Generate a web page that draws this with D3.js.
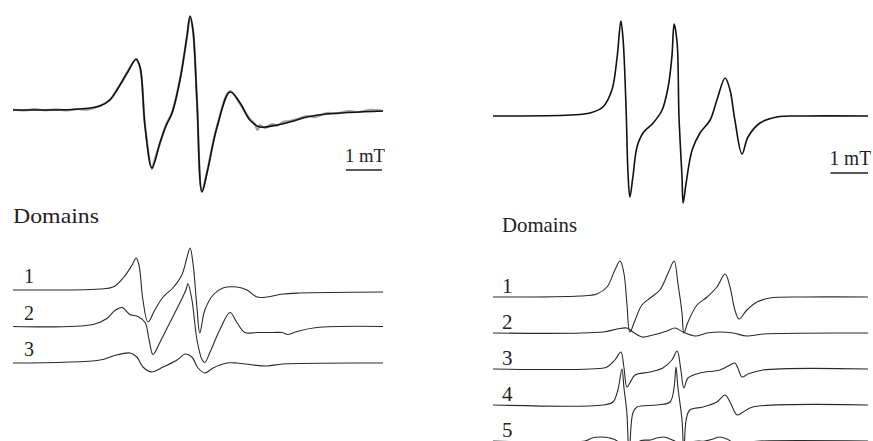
<!DOCTYPE html>
<html>
<head>
<meta charset="utf-8">
<script src="https://cdn.jsdelivr.net/npm/d3@7/dist/d3.min.js"></script>
<style>
  html, body { margin: 0; padding: 0; background: #fff; }
  svg { display: block; }
  text { font-family: "Liberation Serif", "DejaVu Serif", serif; fill: #222; }
</style>
</head>
<body>
<svg id="chart" width="873" height="441"></svg>
<script>
// ---------- DATA (field in mT, intensity in arbitrary units) ----------
// Left panel: full spectrum (simulation) and experimental trace
const leftSim = [
  [0.00,0.0],[1.86,0.1],[2.42,0.4],[2.69,1.0],[2.89,2.0],[3.05,3.0],[3.19,3.8],[3.42,5.1],[3.53,4.3],
  [3.67,-1.7],[3.86,-5.8],[4.08,-3.3],[4.25,-1.6],[4.42,-0.3],[4.64,3.0],[4.83,7.3],[4.92,9.4],[5.00,8.0],
  [5.11,1.0],[5.25,-8.2],[5.39,-6.3],[5.67,-1.7],[6.03,1.8],[6.31,0.7],[6.58,-1.0],[6.86,-1.7],
  [7.33,-1.5],[7.69,-1.2],[8.17,-0.7],[8.72,-0.4],[10.28,-0.1]
];
const leftExp = [
  [0.00,0.05],[0.30,-0.05],[0.60,0.08],[0.90,-0.03],[1.20,0.06],[1.50,-0.05],[1.80,0.10],[2.10,0.05],
  [2.42,0.45],[2.69,1.0],[2.89,2.1],[3.05,2.9],[3.19,3.9],[3.42,5.0],[3.53,4.2],[3.67,-1.6],[3.86,-5.9],
  [3.90,-5.4],[4.08,-3.4],[4.25,-1.5],[4.42,-0.2],[4.64,3.1],[4.83,7.2],[4.92,9.3],[5.00,8.0],[5.11,1.1],
  [5.25,-8.1],[5.39,-6.2],[5.67,-1.6],[6.03,1.9],[6.31,0.6],[6.58,-0.9],[6.70,-1.3],[6.80,-2.0],
  [6.86,-1.5],[7.00,-1.8],[7.20,-1.4],[7.33,-1.6],[7.50,-1.2],[7.69,-1.1],[7.90,-0.9],[8.17,-0.6],
  [8.40,-0.7],[8.72,-0.3],[9.00,-0.35],[9.30,-0.1],[9.60,-0.2],[9.90,0.0],[10.28,-0.1]
];
// Left panel: domain components 1-3
const leftDomain1 = [
  [0.00,0.0],[2.42,0.1],[2.78,0.3],[3.06,1.2],[3.31,2.5],[3.42,3.2],[3.50,2.5],[3.61,-1.0],[3.75,-3.2],
  [3.94,-2.0],[4.17,-0.7],[4.44,0.2],[4.69,1.5],[4.83,3.2],[4.92,4.2],[5.00,2.7],[5.11,-1.7],[5.19,-4.3],
  [5.33,-2.0],[5.56,-0.5],[5.83,0.2],[6.22,0.3],[6.50,0.0],[6.78,-0.7],[7.06,-0.7],[7.50,-0.4],
  [7.97,-0.3],[10.28,-0.2]
];
const leftDomain2 = [
  [0.00,0.0],[2.22,0.2],[2.61,0.8],[2.83,1.6],[3.03,1.9],[3.25,1.2],[3.47,1.0],[3.67,0.4],[3.78,-1.3],
  [3.89,-2.8],[4.08,-1.6],[4.36,0.4],[4.64,2.4],[4.81,3.7],[4.86,4.3],[4.97,2.7],[5.11,-1.3],[5.25,-3.3],
  [5.33,-3.6],[5.47,-2.6],[5.75,-0.3],[6.03,1.4],[6.22,0.4],[6.44,-0.6],[6.78,-0.6],[7.22,-0.6],
  [7.47,-0.6],[7.64,-0.8],[7.89,-0.5],[8.44,-0.1],[10.28,0.0]
];
const leftDomain3 = [
  [0.00,0.0],[2.42,0.3],[2.78,0.7],[3.25,1.0],[3.44,0.6],[3.61,-0.4],[3.86,-0.9],[4.17,-0.4],[4.56,0.3],
  [4.78,0.9],[4.97,0.6],[5.14,-0.5],[5.33,-1.0],[5.56,-0.5],[5.94,0.0],[6.22,0.0],[6.67,-0.2],
  [7.06,-0.3],[7.50,-0.1],[10.28,0.0]
];
// Right panel: full spectrum
const rightSpec = [
  [0.00,0.0],[2.05,0.1],[2.59,0.3],[2.93,0.9],[3.17,2.6],[3.31,5.9],[3.41,9.5],[3.47,7.6],[3.55,0.6],
  [3.60,-5.7],[3.65,-8.1],[3.73,-6.1],[3.84,-3.1],[4.00,-1.7],[4.27,-0.7],[4.51,0.6],[4.67,2.9],
  [4.77,5.9],[4.83,9.2],[4.91,7.3],[4.96,-0.1],[5.04,-6.1],[5.07,-8.7],[5.15,-6.7],[5.31,-3.4],
  [5.52,-1.7],[5.79,-0.4],[5.97,1.6],[6.19,3.8],[6.32,2.6],[6.45,-0.4],[6.64,-3.8],[6.80,-2.1],
  [7.12,-0.7],[7.57,-0.1],[8.27,0.0],[10.00,0.0]
];
// Right panel: domain components 1-5
const rightDomain1 = [
  [0.00,0.0],[2.32,0.1],[2.77,0.3],[3.04,1.0],[3.25,2.7],[3.39,3.6],[3.49,2.4],[3.57,-0.6],[3.65,-3.5],
  [3.79,-2.3],[3.97,-0.8],[4.19,-0.1],[4.45,0.7],[4.67,2.4],[4.83,3.6],[4.93,1.4],[5.04,-1.6],[5.09,-3.6],
  [5.20,-2.5],[5.44,-0.8],[5.71,0.0],[5.97,1.0],[6.19,2.3],[6.32,1.0],[6.45,-1.3],[6.56,-2.2],
  [6.77,-1.3],[7.04,-0.5],[7.39,-0.1],[8.27,0.0],[10.00,0.0]
];
const rightDomain2 = [
  [0.00,0.0],[2.93,0.1],[3.31,0.4],[3.57,0.5],[3.73,0.1],[3.97,-0.4],[4.27,-0.2],[4.64,0.2],[4.85,0.5],
  [5.07,0.1],[5.39,-0.3],[5.71,0.0],[6.05,0.1],[6.40,0.0],[6.77,-0.3],[7.20,-0.1],[10.00,0.0]
];
const rightDomain3 = [
  [0.00,0.0],[2.59,0.0],[3.04,0.2],[3.25,0.9],[3.41,1.7],[3.49,0.2],[3.57,-1.8],[3.65,-1.4],[3.79,-0.6],
  [4.19,-0.3],[4.53,0.1],[4.77,0.9],[4.91,1.8],[5.01,-0.1],[5.09,-1.9],[5.20,-0.9],[5.52,-0.4],
  [6.05,-0.1],[6.32,0.4],[6.45,0.6],[6.53,0.1],[6.64,-0.8],[6.80,-0.5],[7.20,-0.1],[10.00,0.0]
];
const rightDomain4 = [
  [0.00,0.0],[2.93,0.0],[3.20,0.3],[3.33,1.5],[3.44,3.6],[3.49,1.8],[3.57,-0.8],[3.63,-5.0],[3.73,-0.8],
  [3.84,-0.2],[4.37,0.0],[4.72,0.3],[4.83,1.8],[4.88,3.8],[4.93,1.8],[5.04,-1.5],[5.09,-5.0],[5.15,-1.5],
  [5.25,-0.5],[5.60,-0.2],[5.97,0.3],[6.19,1.0],[6.32,0.3],[6.51,-1.0],[6.67,-0.7],[6.93,-0.2],[10.00,0.0]
];
const rightDomain5 = [
  [0.00,0.0],[2.45,0.0],[2.64,0.3],[2.85,0.4],[3.12,0.3],[3.31,0.0],[3.44,-0.9],[3.60,-2.9],[3.76,-0.9],
  [3.92,0.0],[4.19,0.1],[4.37,0.3],[4.56,0.4],[4.72,0.2],[4.91,-0.2],[5.07,-2.9],[5.25,-0.2],[5.65,0.0],
  [5.87,0.2],[6.05,0.4],[6.24,0.2],[6.45,-0.2],[7.12,0.0],[10.00,0.0]
];

const leftLabels = ["1", "2", "3"];
const rightLabels = ["1", "2", "3", "4", "5"];
const domainsTitle = "Domains";
const scaleBarText = "1 mT";
const scaleBarLength = 1; // mT

// ---------- DRAWING ----------
const svg = d3.select("#chart");
svg.append("rect").attr("width", 873).attr("height", 441).attr("fill", "#fff");

function drawPanel(opts) {
  const x = d3.scaleLinear().domain(opts.fieldDomain).range(opts.xRange);
  const g = svg.append("g");
  const mkLine = (base) => d3.line()
    .x(d => x(d[0]))
    .y(d => base - d[1] * opts.pxPerUnit)
    .curve(d3.curveCatmullRom.alpha(0.5));

  // top spectrum
  if (opts.exp) {
    g.append("path").attr("d", mkLine(opts.topBase)(opts.exp))
      .attr("fill", "none").attr("stroke", "#a0a0a0").attr("stroke-width", 2.2);
  }
  g.append("path").attr("d", mkLine(opts.topBase)(opts.top))
    .attr("fill", "none").attr("stroke", "#111").attr("stroke-width", 1.6)
    .attr("stroke-linejoin", "round");

  // scale bar
  const bx0 = x(opts.barStart), bx1 = x(opts.barStart + scaleBarLength);
  g.append("line").attr("x1", bx0).attr("x2", bx1).attr("y1", opts.barY).attr("y2", opts.barY)
    .attr("stroke", "#222").attr("stroke-width", 1.4);
  g.append("text").attr("x", bx0 - 1).attr("y", opts.barY - 8)
    .attr("font-size", opts.barFont).attr("textLength", bx1 - bx0 + 4)
    .attr("lengthAdjust", "spacingAndGlyphs").text(scaleBarText);

  // "Domains" title
  g.append("text").attr("x", opts.titleX).attr("y", opts.titleY)
    .attr("font-size", opts.titleFont).attr("textLength", opts.titleLen)
    .attr("lengthAdjust", "spacingAndGlyphs").text(domainsTitle);

  // domain traces
  opts.domains.forEach((dat, i) => {
    const base = opts.domainBase0 + i * opts.domainStep;
    g.append("path").attr("d", mkLine(base)(dat))
      .attr("fill", "none").attr("stroke", "#2a2a2a").attr("stroke-width", 1.1);
    g.append("text").attr("x", opts.labelX).attr("y", base - opts.labelGap)
      .attr("font-size", opts.labelFont).text(opts.labels[i]);
  });
}

drawPanel({
  fieldDomain: [0, 10.28], xRange: [13, 383], pxPerUnit: 10,
  top: leftSim, exp: leftExp, topBase: 110,
  barStart: 9.25, barY: 170, barFont: 19,
  titleX: 13, titleY: 223, titleFont: 21, titleLen: 86,
  domains: [leftDomain1, leftDomain2, leftDomain3], labels: leftLabels,
  domainBase0: 290, domainStep: 36.5, labelX: 24, labelGap: 7, labelFont: 20
});

drawPanel({
  fieldDomain: [0, 10.0], xRange: [493, 868], pxPerUnit: 10,
  top: rightSpec, topBase: 116,
  barStart: 9.0, barY: 173, barFont: 20,
  titleX: 502, titleY: 232, titleFont: 21, titleLen: 75,
  domains: [rightDomain1, rightDomain2, rightDomain3, rightDomain4, rightDomain5], labels: rightLabels,
  domainBase0: 297, domainStep: 36, labelX: 502, labelGap: 4, labelFont: 21
});
</script>
</body>
</html>
